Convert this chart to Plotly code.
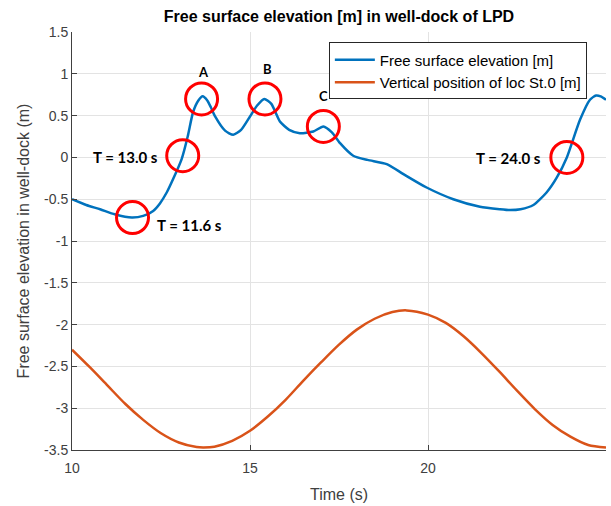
import plotly.graph_objects as go

# Free surface elevation (blue)
t_blue = [10.0, 10.4, 10.79, 11.2, 11.68, 12.0, 12.28, 12.47, 12.66, 12.85, 13.08, 13.25, 13.40, 13.55,
          13.67, 13.8, 13.9, 14.02, 14.3, 14.53, 14.75, 15.0, 15.2, 15.40, 15.6, 15.84, 16.1, 16.40,
          16.78, 17.06, 17.3, 17.53, 17.9, 18.3, 18.84, 19.31, 19.96, 20.71, 21.46, 22.02,
          22.30, 22.6, 22.96, 23.33, 23.62, 23.9, 24.27, 24.55, 24.72, 24.85, 25.0]
v_blue = [-0.50, -0.57, -0.62, -0.68, -0.72, -0.70, -0.64, -0.55, -0.42, -0.25, -0.02, 0.25, 0.54, 0.68,
          0.73, 0.68, 0.60, 0.49, 0.32, 0.27, 0.33, 0.49, 0.62, 0.70, 0.64, 0.43, 0.33, 0.29,
          0.31, 0.37, 0.30, 0.17, 0.02, -0.03, -0.08, -0.20, -0.36, -0.50, -0.59, -0.62,
          -0.63, -0.62, -0.57, -0.42, -0.24, 0.00, 0.45, 0.69, 0.74, 0.73, 0.69]

# Vertical position of loc St.0 (orange)
t_orange = [10, 10.5, 11, 11.5, 12, 12.5, 13, 13.5, 13.7, 14, 14.5, 15, 15.5, 16, 16.5, 17, 17.5, 18,
            18.5, 19, 19.4, 20, 20.5, 21, 21.5, 22, 22.5, 23, 23.5, 24, 24.5, 25]
v_orange = [-2.30, -2.51, -2.73, -2.95, -3.14, -3.30, -3.41, -3.465, -3.47, -3.46, -3.39, -3.27, -3.10,
            -2.90, -2.67, -2.45, -2.24, -2.06, -1.93, -1.85, -1.83, -1.88, -1.98, -2.14, -2.34, -2.56,
            -2.79, -3.01, -3.20, -3.34, -3.44, -3.47]

series_names = ["Free surface elevation [m]", "Vertical position of loc St.0 [m]"]

x_ticks = [10, 15, 20, 25]
x_ticktext = ["10", "15", "20", "25"]
y_ticks = [1.5, 1, 0.5, 0, -0.5, -1, -1.5, -2, -2.5, -3, -3.5]
y_ticktext = ["1.5", "1", "0.5", "0", "-0.5", "-1", "-1.5", "-2", "-2.5", "-3", "-3.5"]

# Marked points: circle centres (time, elevation)
circle_t = [11.70, 13.11, 13.64, 15.42, 17.06, 23.90]
circle_v = [-0.72, 0.02, 0.70, 0.70, 0.37, 0.00]

# Labels
label_texts = ["T = 11.6 s", "T = 13.0 s", "A", "B", "C", "T = 24.0 s"]
label_t = [13.31, 11.5, 13.68, 15.48, 17.07, 22.25]
label_v = [-0.81, 0.0, 1.02, 1.06, 0.73, -0.01]
label_sizes = [15, 15, 13, 13, 13, 15]

fig = go.Figure()
fig.add_trace(go.Scatter(x=t_blue, y=v_blue, mode="lines", name=series_names[0],
                         line=dict(color="#0072BD", width=2.5, shape="spline", smoothing=0.6)))
fig.add_trace(go.Scatter(x=t_orange, y=v_orange, mode="lines", name=series_names[1],
                         line=dict(color="#D95319", width=2.5, shape="spline", smoothing=0.8)))

for ct, cv in zip(circle_t, circle_v):
    fig.add_shape(type="circle", xref="x", yref="y", xsizemode="pixel", ysizemode="pixel",
                  xanchor=ct, yanchor=cv, x0=-16, x1=16, y0=-16, y1=16,
                  line=dict(color="#FF0000", width=3))

for txt, lt, lv, ls in zip(label_texts, label_t, label_v, label_sizes):
    fig.add_annotation(x=lt, y=lv, xref="x", yref="y", text="<b>" + txt + "</b>", showarrow=False,
                       font=dict(family="Lato, Open Sans, sans-serif", size=ls, color="#000000"))

axis_common = dict(showgrid=True, gridcolor="#E3E3E3", gridwidth=1, zeroline=False,
                   showline=True, linecolor="#404040", linewidth=1,
                   ticks="inside", ticklen=5, tickcolor="#404040",
                   tickfont=dict(family="Liberation Sans, Arial, sans-serif", size=14, color="#404040"),
                   mirror=False)

fig.update_layout(
    width=611, height=506,
    margin=dict(l=72, r=5, t=32, b=54),
    paper_bgcolor="white", plot_bgcolor="white",
    title=dict(text="<b>Free surface elevation [m] in well-dock of LPD</b>",
               x=0.5, xref="paper", xanchor="center", y=1, yref="container", yanchor="top",
               pad=dict(t=11),
               font=dict(family="Liberation Sans, Arial, sans-serif", size=16, color="#000000")),
    xaxis=dict(range=[10, 25], tickvals=x_ticks, ticktext=x_ticktext, ticklabelstandoff=5,
               title=dict(text="Time (s)", standoff=14,
                          font=dict(family="Liberation Sans, Arial, sans-serif", size=16, color="#404040")),
               **axis_common),
    yaxis=dict(range=[-3.5, 1.5], tickvals=y_ticks, ticktext=y_ticktext,
               title=dict(text="Free surface elevation in well-dock (m)", standoff=10,
                          font=dict(family="Liberation Sans, Arial, sans-serif", size=16, color="#404040")),
               **axis_common),
    legend=dict(x=0.481, y=0.975, xanchor="left", yanchor="top",
                bgcolor="white", bordercolor="#262626", borderwidth=1,
                font=dict(family="Liberation Sans, Arial, sans-serif", size=15, color="#000000"),
                tracegroupgap=0, itemwidth=40),
    showlegend=True,
)

fig.write_html("out.html")
